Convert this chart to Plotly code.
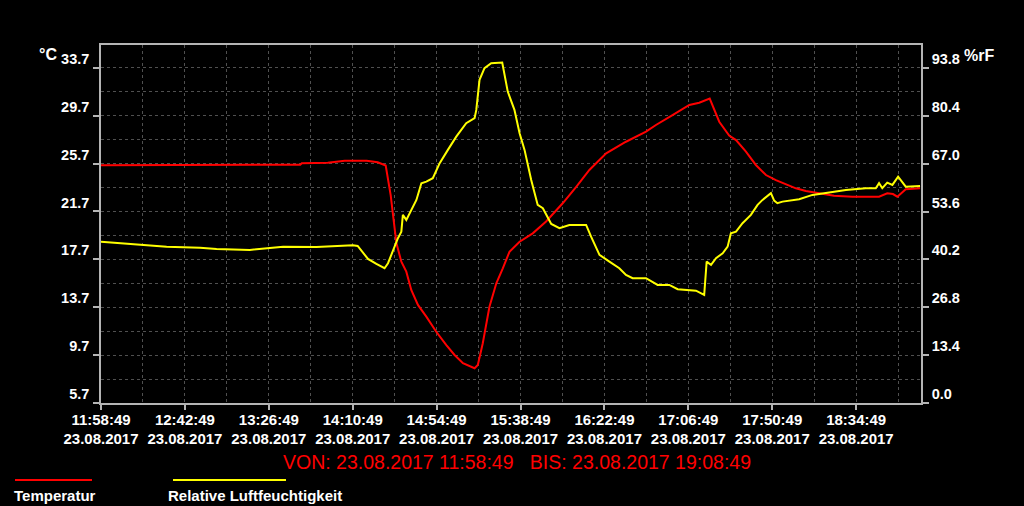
import pandas as pd
import plotly.graph_objects as go

# ---------------- data ----------------
start_time = "2017-08-23 11:58:49"
end_time = "2017-08-23 19:08:49"

# minutes after start, temperature in °C
temp_minutes = [0, 69.1, 70.0, 104.5, 105.3, 118.9, 127.8, 139.3, 145.1, 149.3,
                151.9, 154.9, 157.5, 160.1, 162.7, 166.2, 170.6, 175.8, 181.1, 185.4,
                189.8, 195.9, 197.6, 200.2, 203.7, 207.3, 210.7, 214.2, 219.5, 226.4,
                233.4, 242.1, 249.2, 256.1, 264.9, 275.3, 285.8, 291.0, 299.7, 308.5,
                313.7, 319.2, 324.2, 329.4, 333.0, 338.2, 343.4, 348.7, 353.9, 359.1,
                364.4, 369.6, 376.6, 384.4, 394.0, 408.0, 412.3, 415.3, 417.6, 422.0, 429.5]
temp_values = [25.55, 25.55, 25.6, 25.6, 25.72, 25.77, 25.93, 25.93, 25.8, 25.53,
               23.07, 19.06, 17.5, 16.67, 15.14, 13.89, 12.91, 11.65, 10.54, 9.71,
               9.02, 8.6, 8.87, 10.69, 13.74, 15.7, 16.95, 18.33, 19.17, 19.87,
               20.86, 22.38, 23.76, 25.16, 26.55, 27.52, 28.36, 28.92, 29.75, 30.59,
               30.78, 31.13, 29.19, 28.04, 27.66, 26.69, 25.58, 24.74, 24.32, 23.99,
               23.63, 23.4, 23.21, 23.01, 22.93, 22.93, 23.21, 23.15, 22.93, 23.55, 23.63]

# minutes after start, relative humidity in %
hum_minutes = [0, 16.9, 34.4, 51.9, 60.6, 78.0, 86.8, 95.5, 113.0, 132.1,
               134.6, 140.0, 144.4, 148.7, 150.5, 153.1, 155.7, 157.5, 158.3, 160.1,
               162.7, 165.4, 168.0, 170.6, 174.0, 177.6, 181.9, 186.3, 191.5, 195.9,
               196.8, 198.5, 201.1, 204.6, 210.4, 211.6, 213.3, 216.8, 219.5, 222.1,
               225.6, 229.0, 231.7, 236.1, 240.4, 245.6, 254.4, 257.0, 261.4, 266.6,
               271.8, 275.3, 278.8, 285.8, 291.9, 298.0, 302.4, 312.0, 316.3, 317.6,
               319.9, 322.5, 326.0, 328.6, 330.3, 333.0, 336.4, 340.8, 344.3, 346.9,
               351.3, 353.0, 354.7, 357.4, 366.1, 373.1, 381.8, 390.6, 401.0, 406.3,
               408.0, 409.7, 412.3, 415.0, 418.0, 422.0, 429.5]
hum_values = [45.16, 44.44, 43.76, 43.48, 43.12, 42.84, 43.32, 43.76, 43.68, 44.16,
              43.96, 40.32, 38.92, 37.72, 39.12, 42.84, 46.12, 47.96, 52.64, 51.24,
              54.04, 56.84, 61.52, 61.96, 62.92, 67.12, 70.84, 74.56, 78.32, 79.72,
              82.04, 90.44, 93.72, 95.12, 95.28, 91.84, 87.16, 82.04, 75.52, 70.84,
              62.44, 55.44, 54.52, 50.12, 48.92, 49.84, 49.84, 46.56, 41.44, 39.56,
              37.72, 35.84, 34.92, 34.92, 33.04, 33.04, 31.84, 31.44, 30.24, 39.56,
              38.64, 40.52, 41.92, 43.76, 47.52, 47.96, 50.32, 52.64, 55.44, 56.84,
              58.72, 56.64, 55.92, 56.36, 57.04, 58.24, 58.88, 59.64, 60.12, 60.12,
              61.52, 60.12, 61.68, 61.04, 63.36, 60.56, 60.76]

temp_ticks = [5.7, 9.7, 13.7, 17.7, 21.7, 25.7, 29.7, 33.7]
hum_ticks = [0.0, 13.4, 26.8, 40.2, 53.6, 67.0, 80.4, 93.8]
time_ticks = ["11:58:49", "12:42:49", "13:26:49", "14:10:49", "14:54:49",
              "15:38:49", "16:22:49", "17:06:49", "17:50:49", "18:34:49"]
date_label = "23.08.2017"
temp_name = "Temperatur"
hum_name = "Relative Luftfeuchtigkeit"
title_text = "VON: 23.08.2017 11:58:49   BIS: 23.08.2017 19:08:49"

# ---------------- build ----------------
t0 = pd.Timestamp(start_time)
t_end = pd.Timestamp(end_time)
temp_x = [t0 + pd.Timedelta(minutes=m) for m in temp_minutes]
hum_x = [t0 + pd.Timedelta(minutes=m) for m in hum_minutes]
tick_x = [pd.Timestamp(f"2017-08-23 {t}") for t in time_ticks]
tick_text = [f"{t}<br>{date_label}" for t in time_ticks]

W, H = 1024, 506
L, R, T, B = 101, 921, 45, 403


def px(x):
    return (x - L) / (R - L)


def py(y):
    return (B - y) / (B - T)


FONT = "Liberation Sans, Arial, sans-serif"
AXIS_COLOR = "#b4b4b4"
GRID_COLOR = "#505050"

fig = go.Figure()
fig.add_trace(go.Scatter(x=temp_x, y=temp_values, mode="lines", name=temp_name,
                         line=dict(color="#ff0000", width=2), yaxis="y"))
fig.add_trace(go.Scatter(x=hum_x, y=hum_values, mode="lines", name=hum_name,
                         line=dict(color="#ffff00", width=2), yaxis="y2"))

tickfont = dict(family=FONT, size=15, color="white", weight="bold")
ytickfont = dict(family=FONT, size=14.5, color="white", weight="bold")

fig.update_layout(
    width=W, height=H,
    margin=dict(l=L, r=W - R, t=T, b=H - B, pad=0),
    paper_bgcolor="black", plot_bgcolor="black",
    showlegend=False,
    xaxis=dict(
        type="date", range=[t0, t_end],
        tickmode="array", tickvals=tick_x, ticktext=tick_text,
        tickfont=tickfont, ticks="outside", ticklen=5, tickcolor=AXIS_COLOR, tickwidth=1.5,
        ticklabelstandoff=-3,
        showline=True, linecolor=AXIS_COLOR, linewidth=1.5, mirror=True,
        showgrid=True, gridcolor=GRID_COLOR, griddash="dot", gridwidth=1,
        minor=dict(tickmode="linear", tick0=start_time, dtick=22 * 60 * 1000,
                   showgrid=True, gridcolor=GRID_COLOR, griddash="dot", ticks=""),
        zeroline=False,
    ),
    yaxis=dict(
        range=[5.7, 35.6],
        tickmode="array", tickvals=temp_ticks, ticktext=[f"{v:.1f}" for v in temp_ticks],
        tickfont=ytickfont, ticks="outside", ticklen=6, tickcolor=AXIS_COLOR, tickwidth=1.5,
        ticklabelshift=-9, ticklabelstandoff=1,
        showline=True, linecolor=AXIS_COLOR, linewidth=1.5, mirror=True,
        showgrid=True, gridcolor=GRID_COLOR, griddash="dot", gridwidth=1,
        minor=dict(tickmode="linear", tick0=5.7, dtick=2,
                   showgrid=True, gridcolor=GRID_COLOR, griddash="dot", ticks=""),
        zeroline=False,
    ),
    yaxis2=dict(
        overlaying="y", side="right",
        range=[0, 100.2],
        tickmode="array", tickvals=hum_ticks, ticktext=[f"{v:.1f}" for v in hum_ticks],
        tickfont=ytickfont, ticks="outside", ticklen=6, tickcolor=AXIS_COLOR, tickwidth=1.5,
        ticklabelshift=-9, ticklabelstandoff=0,
        showline=True, linecolor=AXIS_COLOR, linewidth=1.5,
        showgrid=False, zeroline=False,
    ),
)


def ann(text, x, y, size, color="white", bold=True, xanchor="center"):
    return dict(text=text, x=px(x), y=py(y), xref="paper", yref="paper",
                xanchor=xanchor, yanchor="middle", showarrow=False,
                font=dict(family=FONT, size=size, color=color,
                          weight="bold" if bold else "normal"))


annotations = [
    ann("°C", 48, 54, 16),
    ann("%rF", 979, 55, 16),
    ann(title_text, 517, 462, 19.5, color="#ff0000", bold=False),
    ann(temp_name, 12, 495, 15, xanchor="left"),
    ann(hum_name, 166, 495, 15, xanchor="left"),
]
fig.update_layout(annotations=annotations)

shapes = [
    dict(type="line", xref="paper", yref="paper", x0=px(15), x1=px(92), y0=py(480), y1=py(480),
         line=dict(color="#ff0000", width=2)),
    dict(type="line", xref="paper", yref="paper", x0=px(173), x1=px(286), y0=py(480), y1=py(480),
         line=dict(color="#ffff00", width=2)),
]
fig.update_layout(shapes=shapes)

fig.write_html(
    "out.html",
    config={"displayModeBar": False},
    post_script="document.body.style.margin='0';document.body.style.background='black';"
                "document.documentElement.style.background='black';",
)
